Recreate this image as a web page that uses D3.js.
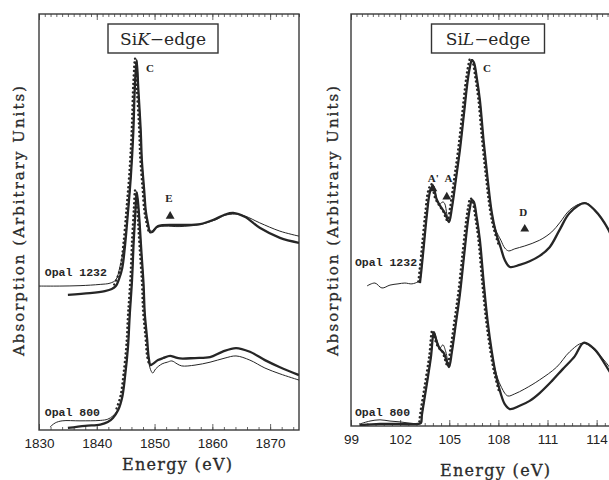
<!DOCTYPE html>
<html>
<head>
<meta charset="utf-8">
<script src="https://cdn.jsdelivr.net/npm/d3@7/dist/d3.min.js"></script>
<style>
  html, body { margin: 0; padding: 0; background: #fff; }
  svg { display: block; }
</style>
</head>
<body>
<svg id="chart" width="609" height="480"></svg>
<script>
// ---------------- DATA ----------------
// Si K-edge panel: energy (eV), absorption (arbitrary units)
const kOpal1232Thin = [
  [1830.0,34.6],[1833.6,34.6],[1837.1,34.7],[1840.6,35.0],[1842.3,35.3],[1843.3,36.1],
  [1844.0,39.2],[1844.7,44.0],[1845.4,52.2],[1845.9,61.1],[1846.3,70.9],[1846.6,82.9],
  [1846.9,88.9],[1847.2,81.7],[1847.6,72.1],[1847.8,64.9],[1848.2,57.7],[1848.5,52.4],
  [1848.9,49.3],[1849.2,48.1],[1849.6,47.8],[1849.9,48.3],[1850.6,48.8],[1851.8,49.0],
  [1854.4,48.9],[1857.9,49.4],[1860.5,50.5],[1862.2,51.6],[1863.9,51.9],[1865.7,51.4],
  [1868.2,49.8],[1871.7,47.8],[1875.0,46.6]
];
const kOpal1232Thick = [
  [1835.0,32.5],[1838.8,32.9],[1841.4,33.4],[1842.6,33.9],[1843.3,34.6],[1843.8,36.1],
  [1844.4,38.9],[1844.9,44.5],[1845.4,52.4],[1845.9,61.1],[1846.3,70.9],[1846.6,82.9],
  [1846.9,88.9],[1847.2,81.7],[1847.6,72.1],[1847.8,64.9],[1848.2,57.7],[1848.5,52.4],
  [1848.9,49.3],[1849.2,47.6],[1849.6,47.6],[1850.6,49.0],[1854.4,49.3],[1857.9,49.5],
  [1860.5,50.7],[1862.2,51.8],[1863.6,52.2],[1865.7,51.2],[1868.2,48.6],[1871.7,46.2],
  [1875.0,45.0]
];
const kOpal800Thin = [
  [1831.9,0.7],[1832.8,1.7],[1834.0,2.2],[1837.1,2.2],[1840.6,2.3],[1841.9,2.6],
  [1842.8,3.4],[1843.7,5.0],[1844.4,8.2],[1844.9,13.2],[1845.4,20.0],[1845.7,27.6],
  [1846.1,36.1],[1846.4,45.7],[1846.7,52.9],[1846.9,57.2],[1847.1,55.3],[1847.4,50.0],
  [1847.7,43.3],[1848.1,34.9],[1848.3,28.1],[1848.7,21.6],[1849.0,16.3],[1849.4,14.2],
  [1849.7,13.7],[1850.2,14.7],[1851.3,15.9],[1852.2,16.3],[1853.0,16.6],[1853.9,15.9],
  [1854.7,15.4],[1857.0,15.6],[1859.6,16.3],[1862.2,17.3],[1864.1,17.8],[1866.5,16.8],
  [1869.1,14.9],[1871.7,13.5],[1875.0,12.0]
];
const kOpal800Thick = [
  [1835.0,0.5],[1838.0,1.0],[1840.6,1.3],[1841.9,1.9],[1842.8,2.9],[1843.7,4.8],
  [1844.4,7.9],[1844.9,13.0],[1845.4,20.0],[1845.7,27.6],[1846.1,36.1],[1846.4,45.7],
  [1846.7,52.9],[1846.9,57.2],[1847.1,55.3],[1847.4,50.0],[1847.7,43.3],[1848.1,34.9],
  [1848.3,28.1],[1848.7,22.1],[1849.0,17.3],[1849.3,15.6],[1849.7,15.9],[1850.6,16.8],
  [1851.5,17.3],[1852.7,17.8],[1853.5,17.5],[1854.4,17.2],[1857.0,17.3],[1859.6,17.5],
  [1861.7,18.8],[1864.1,19.7],[1866.5,18.8],[1869.1,16.8],[1871.7,15.1],[1875.0,13.2]
];

// Si L-edge panel
const lOpal1232Thin = [
  [99.98,34.0],[100.46,34.7],[100.89,33.5],[101.38,34.2],[101.87,34.5],[102.29,34.7],
  [102.72,34.5],[103.09,35.0],[103.21,35.4],[103.30,37.9],[103.45,43.9],[103.63,51.2],
  [103.82,56.8],[104.00,58.5],[104.12,57.3],[104.24,55.1],[104.43,53.9],[104.61,54.4],
  [104.73,53.9],[104.85,51.5],[104.98,49.5],[105.16,52.9],[105.40,59.7],[105.65,67.0],
  [105.89,75.5],[106.13,84.0],[106.26,87.1],[106.38,88.8],[106.50,88.3],[106.68,84.5],
  [106.87,79.1],[107.11,68.7],[107.35,59.7],[107.60,51.7],[107.84,47.6],[108.15,45.1],
  [108.39,43.2],[108.63,42.5],[109.00,43.0],[109.61,43.7],[110.52,45.1],[111.26,47.1],
  [111.74,49.3],[112.35,52.4],[112.96,53.9],[113.39,54.1],[114.00,51.9],[114.73,47.6],
  [114.98,45.6]
];
const lOpal1232Thick = [
  [103.21,34.7],[103.30,37.9],[103.45,43.9],[103.63,51.2],[103.82,56.8],[104.00,58.3],
  [104.24,54.9],[104.48,53.2],[104.73,51.7],[104.98,49.5],[105.16,52.9],[105.40,59.7],
  [105.65,67.0],[105.89,75.5],[106.13,84.0],[106.26,87.1],[106.38,88.8],[106.50,88.3],
  [106.68,84.5],[106.87,79.1],[107.11,68.7],[107.35,59.7],[107.60,51.7],[107.84,47.1],
  [108.15,43.2],[108.39,40.3],[108.70,38.6],[109.30,39.1],[109.91,40.0],[110.52,41.3],
  [111.13,43.4],[111.74,47.6],[112.35,51.7],[113.27,54.1],[113.88,52.4],[114.73,47.6],
  [114.98,45.1]
];
const lOpal800Thin = [
  [99.55,0.5],[100.16,1.2],[100.77,1.5],[101.38,1.2],[101.99,1.0],[102.60,0.7],
  [103.21,0.7],[103.33,2.7],[103.57,8.7],[103.88,16.7],[104.06,22.8],[104.24,20.9],
  [104.43,18.9],[104.61,19.7],[104.79,18.0],[104.98,14.6],[105.16,18.0],[105.40,24.8],
  [105.65,32.0],[105.89,40.8],[106.13,49.5],[106.26,52.9],[106.38,54.9],[106.50,54.4],
  [106.68,50.5],[106.87,45.1],[107.11,34.5],[107.35,25.2],[107.60,18.0],[107.84,13.1],
  [108.15,9.7],[108.57,7.3],[109.00,7.8],[109.61,9.0],[110.52,11.2],[111.56,14.3],
  [112.35,18.0],[113.15,20.1],[113.88,18.4],[114.73,14.6],[114.98,13.1]
];
const lOpal800Thick = [
  [99.55,0.2],[100.77,0.5],[101.99,0.5],[103.09,0.5],[103.27,0.7],[103.33,2.7],
  [103.57,8.7],[103.88,16.7],[104.06,22.8],[104.24,20.4],[104.43,18.7],[104.67,17.7],
  [104.98,14.3],[105.16,18.0],[105.40,24.8],[105.65,32.0],[105.89,40.8],[106.13,49.5],
  [106.26,52.9],[106.38,54.9],[106.50,54.4],[106.68,50.5],[106.87,45.1],[107.11,34.5],
  [107.35,25.2],[107.60,18.0],[107.84,12.6],[108.15,7.8],[108.39,5.3],[108.70,4.1],
  [109.30,4.9],[109.91,6.1],[110.52,8.0],[111.26,10.9],[111.93,13.8],[112.66,16.9],
  [113.21,20.2],[113.88,18.6],[114.73,13.6],[114.98,12.1]
];

// tick labels
const kTickLabels = [1830, 1840, 1850, 1860, 1870];
const lTickLabels = [99, 102, 105, 108, 111, 114];

// annotations: [energy, absorption, text]
const kPeakLabels = [[1849.2, 86.1, "C"], [1852.5, 54.8, "E"]];
const kMarkers = [[1852.7, 51.4]];
const lPeakLabels = [[107.3, 85.9, "C"], [104.03, 59.2, "A'"], [104.95, 59.2, "A"], [109.52, 51.0, "D"]];
const lMarkers = [[104.0, 57.6], [104.85, 55.6], [109.61, 47.8]];
const kSampleLabels = [[1831.0, 37.0, "Opal 1232"], [1831.0, 3.4, "Opal 800"]];
const lSampleLabels = [[99.24, 38.8, "Opal 1232"], [99.24, 2.4, "Opal 800"]];

// ---------------- DRAW ----------------
const svg = d3.select("#chart");
const ink = "#262626";

function panel(cfg) {
  const x = d3.scaleLinear().domain(cfg.xDomain).range([cfg.left, cfg.right]);
  const y = d3.scaleLinear().domain([0, 100]).range([cfg.bottom, cfg.top]);
  const g = svg.append("g");

  const clipId = "clip" + cfg.id;
  svg.append("clipPath").attr("id", clipId).append("rect")
    .attr("x", cfg.left).attr("y", cfg.top)
    .attr("width", cfg.right - cfg.left).attr("height", cfg.bottom - cfg.top);

  // ticks (inward) top & bottom
  const topAxis = d3.axisTop(x).tickValues(cfg.topMinor).tickSize(-3).tickFormat("");
  const topMajor = d3.axisTop(x).tickValues(cfg.labels).tickSize(-6).tickFormat("");
  const botAxis = d3.axisBottom(x).tickValues(cfg.botMinor).tickSize(-3).tickFormat("");
  const botMajor = d3.axisBottom(x).tickValues(cfg.labels).tickSize(-6).tickPadding(8)
    .tickFormat(d3.format("d"));
  [[topAxis, cfg.top], [topMajor, cfg.top], [botAxis, cfg.bottom], [botMajor, cfg.bottom]]
    .forEach(([ax, yy]) => {
      const a = g.append("g").attr("transform", `translate(0,${yy})`).call(ax);
      a.select(".domain").remove();
      a.selectAll("line").attr("stroke", "#555").attr("stroke-width", 0.9);
      a.selectAll("text").attr("fill", "#222")
        .style("font-family", "'Liberation Sans', Arial, sans-serif").style("font-size", "13.5px");
    });

  // frame
  g.append("rect").attr("x", cfg.left).attr("y", cfg.top)
    .attr("width", cfg.right - cfg.left).attr("height", cfg.bottom - cfg.top)
    .attr("fill", "none").attr("stroke", "#3a3a3a").attr("stroke-width", 1.4);

  const line = d3.line().x(d => x(d[0])).y(d => y(d[1])).curve(d3.curveCatmullRom.alpha(0.5));
  const plot = g.append("g").attr("clip-path", `url(#${clipId})`);

  // dotted data-point overlay (steep edge region of the thick curves)
  cfg.thick.forEach(s => {
    plot.append("path").datum(s.filter(d => d[0] >= cfg.dotRange[0] && d[0] <= cfg.dotRange[1]))
      .attr("d", line).attr("fill", "none").attr("stroke", ink)
      .attr("stroke-width", 2.4).attr("stroke-linecap", "round")
      .attr("stroke-dasharray", "0.1,4.2").attr("transform", "translate(-1.6,-1.6)");
  });
  cfg.thin.forEach(s => {
    plot.append("path").datum(s).attr("d", line).attr("fill", "none")
      .attr("stroke", ink).attr("stroke-width", 1.0);
  });
  cfg.thick.forEach(s => {
    plot.append("path").datum(s).attr("d", line).attr("fill", "none")
      .attr("stroke", ink).attr("stroke-width", 2.3);
  });

  // markers
  const tri = d3.symbol().type(d3.symbolTriangle).size(34);
  g.selectAll(null).data(cfg.markers).join("path")
    .attr("d", tri).attr("fill", ink)
    .attr("transform", d => `translate(${x(d[0])},${y(d[1])})`);

  g.selectAll(null).data(cfg.peakLabels).join("text")
    .attr("x", d => x(d[0])).attr("y", d => y(d[1]))
    .attr("text-anchor", "middle").attr("fill", ink)
    .style("font-family", "'Liberation Serif', serif").style("font-weight", "bold")
    .style("font-size", "11px").text(d => d[2]);

  g.selectAll(null).data(cfg.sampleLabels).join("text")
    .attr("x", d => x(d[0])).attr("y", d => y(d[1]))
    .attr("fill", ink)
    .style("font-family", "'Liberation Mono', monospace").style("font-weight", "bold")
    .style("font-size", "11.5px").text(d => d[2]);

  // title box
  const tg = g.append("g");
  const tt = tg.append("text").attr("x", cfg.boxCx).attr("y", 45).attr("text-anchor", "middle")
    .attr("fill", ink)
    .style("font-family", "'DejaVu Serif', serif").style("font-size", "17px");
  tt.append("tspan").text("Si");
  tt.append("tspan").style("font-style", "italic").text(cfg.edge);
  tt.append("tspan").text("\u2212edge");
  tg.insert("rect", "text").attr("x", cfg.boxCx - cfg.boxW / 2).attr("y", 24)
    .attr("width", cfg.boxW).attr("height", 29)
    .attr("fill", "#fff").attr("stroke", "#333").attr("stroke-width", 1.4);

  // axis titles (slab-serif look, widths matched to the original)
  svg.append("text").attr("transform", `translate(${cfg.yTitleX},${221}) rotate(-90)`)
    .attr("text-anchor", "middle").attr("fill", "#2a2a2a")
    .attr("stroke", "#2a2a2a").attr("stroke-width", 0.3)
    .attr("textLength", 270).attr("lengthAdjust", "spacing")
    .style("font-family", "'DejaVu Serif', serif")
    .style("font-size", "15px").text("Absorption (Arbitrary Units)");
  svg.append("text").attr("x", cfg.xTitleX).attr("y", cfg.xTitleY)
    .attr("text-anchor", "middle").attr("fill", "#2a2a2a")
    .attr("stroke", "#2a2a2a").attr("stroke-width", 0.3)
    .attr("textLength", 110).attr("lengthAdjust", "spacing")
    .style("font-family", "'DejaVu Serif', serif")
    .style("font-size", "16px").text("Energy (eV)");
}

panel({
  id: "K", xDomain: [1830, 1875], left: 39, right: 299, top: 14, bottom: 430,
  labels: kTickLabels, topMinor: d3.range(1830, 1875.01, 1), botMinor: d3.range(1830, 1875.01, 2),
  thin: [kOpal1232Thin, kOpal800Thin], thick: [kOpal1232Thick, kOpal800Thick],
  dotRange: [1843, 1849.3], markers: kMarkers, peakLabels: kPeakLabels, sampleLabels: kSampleLabels,
  edge: "K", boxCx: 163, boxW: 110, yTitleX: 24, xTitleX: 177, xTitleY: 470
});
panel({
  id: "L", xDomain: [99, 115], left: 351, right: 613, top: 14, bottom: 426,
  labels: lTickLabels, topMinor: d3.range(99, 115.01, 1 / 3), botMinor: d3.range(99, 115.01, 0.5),
  thin: [lOpal1232Thin, lOpal800Thin], thick: [lOpal1232Thick, lOpal800Thick],
  dotRange: [103.2, 108.2], markers: lMarkers, peakLabels: lPeakLabels, sampleLabels: lSampleLabels,
  edge: "L", boxCx: 488, boxW: 113, yTitleX: 338, xTitleX: 495, xTitleY: 476
});
</script>
</body>
</html>
